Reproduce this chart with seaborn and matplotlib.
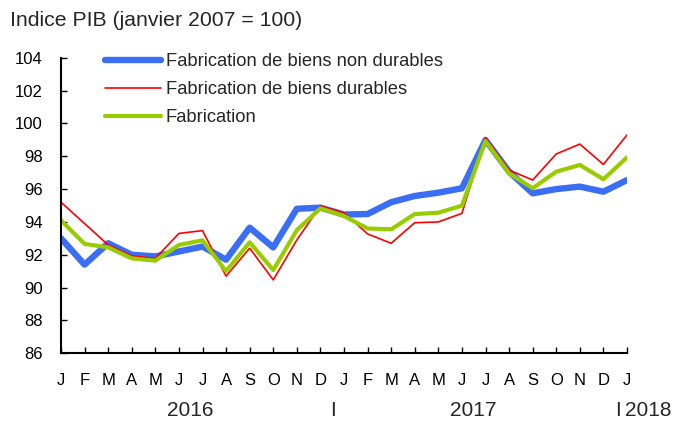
import matplotlib
matplotlib.use("Agg")
import matplotlib.pyplot as plt
import matplotlib.transforms as mtransforms
import seaborn as sns
import pandas as pd

months = ["J", "F", "M", "A", "M", "J", "J", "A", "S", "O", "N", "D",
          "J", "F", "M", "A", "M", "J", "J", "A", "S", "O", "N", "D", "J"]
non_durables = [93.0, 91.4, 92.7, 92.0, 91.9, 92.2, 92.5, 91.7, 93.65, 92.45, 94.8, 94.87,
                94.45, 94.48, 95.2, 95.58, 95.78, 96.05, 98.99, 97.06, 95.74, 96.0, 96.15, 95.84, 96.55]
durables = [95.2, 93.9, 92.6, 91.93, 91.78, 93.3, 93.47, 90.7, 92.4, 90.47, 92.9, 94.97,
            94.56, 93.27, 92.7, 93.95, 94.0, 94.52, 99.13, 97.16, 96.55, 98.14, 98.74, 97.5, 99.3]
fabrication = [94.1, 92.66, 92.45, 91.78, 91.64, 92.6, 92.88, 91.0, 92.76, 91.07, 93.5, 94.83,
               94.36, 93.6, 93.55, 94.48, 94.56, 94.99, 98.93, 96.96, 96.05, 97.06, 97.47, 96.6, 97.93]
series_names = ["Fabrication de biens non durables", "Fabrication de biens durables", "Fabrication"]
year_labels = ["2016", "2017", "2018"]
y_ticks = [86, 88, 90, 92, 94, 96, 98, 100, 102, 104]
title = "Indice PIB (janvier 2007 = 100)"

sns.set_style("white")
plt.rcParams["font.family"] = ["Liberation Sans", "DejaVu Sans"]

idx = list(range(len(months)))
df = pd.DataFrame({"idx": idx, series_names[0]: non_durables,
                   series_names[1]: durables, series_names[2]: fabrication})

fig = plt.figure(figsize=(6.73, 4.21), dpi=100)
ax = fig.add_axes([61 / 673, 1 - 353.3 / 421, (627 - 61) / 673, (353.3 - 57.7) / 421])

colors = ["#3A6EF5", "#FF0000", "#99CC00"]
widths = [4.6, 1.2, 3.0]
for name, c, w in zip(series_names, colors, widths):
    sns.lineplot(data=df, x="idx", y=name, ax=ax, color=c, linewidth=w, label=name)

ax.set_xlim(0, 24)
ax.set_ylim(86, 104)
ax.set_xticks(idx)
ax.set_xticklabels(months)
ax.set_yticks(y_ticks)
ax.set_xlabel("")
ax.set_ylabel("")
for s in ["top", "right"]:
    ax.spines[s].set_visible(False)
for s in ["left", "bottom"]:
    ax.spines[s].set_color("black")
    ax.spines[s].set_linewidth(1.5)
ax.tick_params(axis="x", direction="in", length=4, width=1, pad=14, labelsize=12, colors="black")
ax.tick_params(axis="y", direction="in", length=4, width=1, pad=13, labelsize=12, colors="black")
ax.tick_params(axis="x", bottom=True)
ax.tick_params(axis="y", left=True)

leg = ax.legend(loc="upper left", bbox_to_anchor=(0.078, 1.015), frameon=False, fontsize=13.2,
                handlelength=3.05, handletextpad=0.25, labelspacing=0.6, borderaxespad=0,
                borderpad=0)

trans = mtransforms.blended_transform_factory(ax.transData, fig.transFigure)
yy = 1 - 411 / 421
ax.text(5.5, yy, year_labels[0], transform=trans, ha="center", va="center", fontsize=15)
ax.text(11.54, yy, "I", transform=trans, ha="center", va="center", fontsize=15)
ax.text(17.5, yy, year_labels[1], transform=trans, ha="center", va="center", fontsize=15)
ax.text(23.63, yy, "I", transform=trans, ha="center", va="center", fontsize=15)
ax.text(23.93, yy, year_labels[2], transform=trans, ha="left", va="center", fontsize=15)

fig.text(10 / 673, 1 - 20.5 / 421, title, ha="left", va="center", fontsize=15.3)

fig.savefig("out.png", dpi=100)
